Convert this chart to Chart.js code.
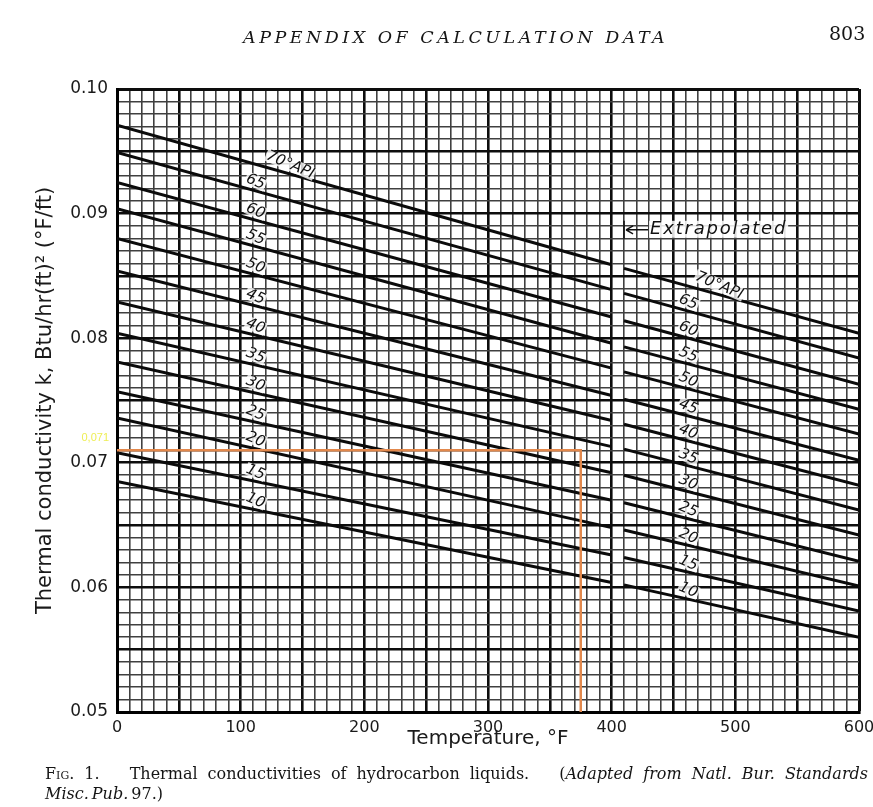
<!DOCTYPE html>
<html lang="en">

<head>
    <meta charset="UTF-8">
    <title>Thermal conductivities of hydrocarbon liquids</title>
    <script src="https://cdn.jsdelivr.net/npm/chart.js"></script>

    <style>
        body {
            margin: 0;
            background-color: #ffffff;
        }

        .page {
            position: relative;
            width: 873px;
            height: 807px;
            overflow: hidden;
            color: #151515;
        }

        #grafico {
            position: absolute;
            left: 0;
            top: 0;
        }

        .header {
            position: absolute;
            top: 27px;
            left: 243px;
            font-family: "DejaVu Serif", serif;
            font-style: italic;
            font-size: 17.5px;
            letter-spacing: 3.5px;
            white-space: nowrap;
        }

        .pageno {
            position: absolute;
            top: 22px;
            left: 829px;
            font-family: "DejaVu Serif", serif;
            font-size: 19px;
        }

        .caption {
            position: absolute;
            left: 45px;
            top: 764px;
            width: 823px;
            font-family: "DejaVu Serif", serif;
            font-size: 16px;
            line-height: 20px;
            word-spacing: -2px;
        }

        .caption .line1 {
            text-align: justify;
            text-align-last: justify;
            white-space: nowrap;
        }

        .sc {
            font-variant: small-caps;
        }
    </style>
</head>

<body>
    <div class="page">
        <canvas id="grafico" width="873" height="807"></canvas>
        <div class="header">APPENDIX OF CALCULATION DATA</div>
        <div class="pageno">803</div>
        <div class="caption">
            <div class="line1"><span class="sc">Fig.</span> 1.&nbsp;&nbsp; Thermal conductivities of hydrocarbon liquids.&nbsp;&nbsp; (<i>Adapted from Natl. Bur. Standards</i></div>
            <div><i>Misc. Pub.</i> 97.)</div>
        </div>
    </div>

    <script>
        // degrees API, one curve each
        const apiGrades = [70, 65, 60, 55, 50, 45, 40, 35, 30, 25, 20, 15, 10];
        // k read at the segment ends (measured part 0-400 F, extrapolated part 410-600 F)
        const k0F = [0.0971, 0.0949, 0.0925, 0.0904, 0.0880, 0.0854, 0.0829, 0.0804, 0.0781, 0.0757, 0.0736, 0.0708, 0.0685];
        const k400F = [0.0859, 0.0839, 0.0817, 0.0796, 0.0776, 0.0754, 0.0734, 0.0713, 0.0692, 0.0670, 0.0648, 0.0626, 0.0604];
        const k410F = [0.0856, 0.0836, 0.0814, 0.0793, 0.0773, 0.0751, 0.0731, 0.0711, 0.0690, 0.0668, 0.0646, 0.0624, 0.0602];
        const k600F = [0.0804, 0.0784, 0.0763, 0.0743, 0.0723, 0.0702, 0.0682, 0.0662, 0.0642, 0.0621, 0.0601, 0.0581, 0.0560];
        const segTemps = [0, 400, 410, 600];

        // reading marked in orange
        const markTemp = 375;
        const markK = 0.071;

        const xTicks = [0, 100, 200, 300, 400, 500, 600];
        const yTicks = ['0.05', '0.06', '0.07', '0.08', '0.09', '0.10'];

        const tickFont = { family: '"DejaVu Sans", sans-serif', size: 17 };
        const titleFont = { family: '"DejaVu Sans", sans-serif', size: 20 };

        function kAt(i, t) {
            if (t <= segTemps[1]) {
                return k0F[i] + (k400F[i] - k0F[i]) * (t - segTemps[0]) / (segTemps[1] - segTemps[0]);
            }
            return k410F[i] + (k600F[i] - k410F[i]) * (t - segTemps[2]) / (segTemps[3] - segTemps[2]);
        }

        const datasets = [{
            label: 'reading',
            data: [{ x: 0, y: markK }, { x: markTemp, y: markK }, { x: markTemp, y: 0.05 }],
            borderColor: '#e2884c',
            borderWidth: 2.5,
            pointRadius: 0,
            order: 0
        }];

        apiGrades.forEach((api, i) => {
            datasets.push({
                label: api + '°API',
                data: [
                    { x: segTemps[0], y: k0F[i] },
                    { x: segTemps[1], y: k400F[i] },
                    { x: 405, y: null },
                    { x: segTemps[2], y: k410F[i] },
                    { x: segTemps[3], y: k600F[i] }
                ],
                borderColor: '#0b0b0b',
                borderWidth: 3,
                pointRadius: 0,
                spanGaps: false,
                order: 1
            });
        });

        // labels written on the curves, plus the extrapolation note and the 0,071 reading
        const curveLabels = {
            id: 'curveLabels',
            afterDatasetsDraw(chart) {
                const { ctx, scales: { x, y } } = chart;
                ctx.save();
                ctx.font = 'italic 15px "DejaVu Sans", sans-serif';
                ctx.textAlign = 'center';
                ctx.textBaseline = 'middle';

                // text sits just above its curve
                const put = (text, t, k) => {
                    const px = x.getPixelForValue(t);
                    const py = y.getPixelForValue(k) - 9;
                    const w = ctx.measureText(text).width;
                    ctx.save();
                    ctx.translate(px, py);
                    ctx.rotate(0.4);
                    ctx.fillStyle = 'rgba(255,255,255,0.8)';
                    ctx.fillRect(-w / 2 - 1, -7, w + 2, 13);
                    ctx.fillStyle = '#111';
                    ctx.fillText(text, 0, 0);
                    ctx.restore();
                };

                apiGrades.forEach((api, i) => {
                    const first = i === 0;
                    const tl = first ? 140 : 112;
                    const tr = first ? 487 : 462;
                    put(first ? api + '°API' : String(api), tl, kAt(i, tl));
                    put(first ? api + '°API' : String(api), tr, kAt(i, tr));
                });

                // extrapolated note with arrow
                const ax = x.getPixelForValue(410);
                const ay = y.getPixelForValue(0.0887);
                ctx.strokeStyle = '#111';
                ctx.lineWidth = 1.5;
                ctx.beginPath();
                ctx.moveTo(ax, ay - 9);
                ctx.lineTo(ax, ay + 9);
                ctx.moveTo(ax + 2, ay);
                ctx.lineTo(ax + 24, ay);
                ctx.moveTo(ax + 2, ay);
                ctx.lineTo(ax + 9, ay - 4);
                ctx.moveTo(ax + 2, ay);
                ctx.lineTo(ax + 9, ay + 4);
                ctx.stroke();
                ctx.font = 'italic 18px "DejaVu Sans", sans-serif';
                ctx.letterSpacing = '1.8px';
                ctx.textAlign = 'left';
                const note = 'Extrapolated';
                const nw = ctx.measureText(note).width;
                ctx.fillStyle = 'rgba(255,255,255,0.85)';
                ctx.fillRect(ax + 25, ay - 9, nw + 2, 17);
                ctx.fillStyle = '#111';
                ctx.fillText(note, ax + 26, ay);
                ctx.letterSpacing = '0px';

                // value of the reading, left of the axis
                ctx.font = '11px "Liberation Sans", sans-serif';
                ctx.textAlign = 'right';
                ctx.fillStyle = '#eeee55';
                ctx.fillText('0,071', x.left - 8, y.getPixelForValue(markK) - 12);
                ctx.restore();
            }
        };

        const ctx = document.getElementById('grafico').getContext('2d');
        new Chart(ctx, {
            type: 'line',
            data: { datasets: datasets },
            options: {
                responsive: false,
                animation: false,
                layout: { padding: { top: 89, right: 14, bottom: 0, left: 0 } },
                plugins: {
                    legend: { display: false },
                    tooltip: { enabled: false }
                },
                scales: {
                    x: {
                        type: 'linear',
                        min: 0,
                        max: 600,
                        afterFit: scale => {
                            scale.height = 95;
                            scale.paddingRight = 10;
                        },
                        ticks: {
                            stepSize: 10,
                            autoSkip: false,
                            maxRotation: 0,
                            padding: 6,
                            color: '#1a1a1a',
                            font: { family: '"DejaVu Sans", sans-serif', size: 16 },
                            callback: v => xTicks.includes(v) ? String(v) : ''
                        },
                        grid: {
                            drawTicks: false,
                            color: c => (c.tick && c.tick.value % 50 === 0) ? '#0d0d0d' : '#404040',
                            lineWidth: c => {
                                if (!c.tick) return 1.6;
                                if (c.tick.value === 600) return 3;
                                return c.tick.value % 50 === 0 ? 2.6 : 1.6;
                            }
                        },
                        border: { width: 3, color: '#000' },
                        title: {
                            display: true,
                            text: 'Temperature, °F',
                            color: '#1a1a1a',
                            font: titleFont,
                            padding: { top: 56, bottom: 56 }
                        }
                    },
                    y: {
                        min: 0.05,
                        max: 0.10,
                        afterFit: scale => { scale.width = 117; },
                        ticks: {
                            stepSize: 0.001,
                            autoSkip: false,
                            padding: 9,
                            color: '#1a1a1a',
                            font: tickFont,
                            callback: v => {
                                const s = v.toFixed(2);
                                return (Math.round(v * 1000) % 10 === 0 && yTicks.includes(s)) ? s : '';
                            }
                        },
                        grid: {
                            drawTicks: false,
                            color: c => (c.tick && Math.round(c.tick.value * 1000) % 5 === 0) ? '#0d0d0d' : '#404040',
                            lineWidth: c => {
                                if (!c.tick) return 1.6;
                                const m = Math.round(c.tick.value * 1000);
                                if (m === 100) return 3;
                                return m % 5 === 0 ? 2.6 : 1.6;
                            }
                        },
                        border: { width: 3, color: '#000' },
                        title: {
                            display: true,
                            text: 'Thermal conductivity k, Btu/hr(ft)² (°F/ft)',
                            color: '#1a1a1a',
                            font: { family: '"DejaVu Sans", sans-serif', size: 21 },
                            padding: { top: 33, bottom: 33 }
                        }
                    }
                }
            },
            plugins: [curveLabels]
        });
    </script>
</body>

</html>
